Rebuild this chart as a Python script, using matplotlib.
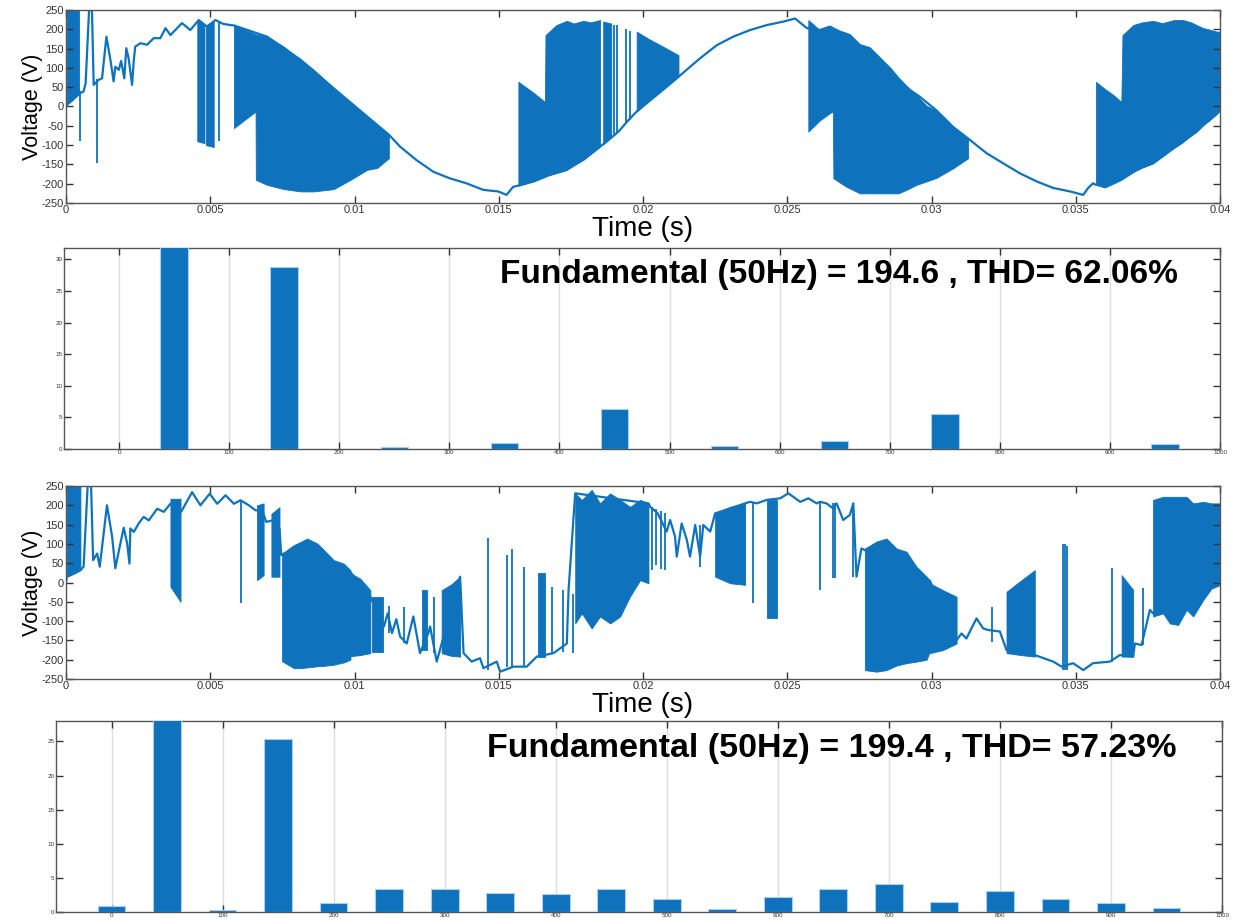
import numpy as np
import matplotlib
matplotlib.use("Agg")
import matplotlib.pyplot as plt
from matplotlib.ticker import FuncFormatter

plt.rcParams['font.family'] = ['Liberation Sans', 'DejaVu Sans']
plt.rcParams['axes.unicode_minus'] = False

BLUE = '#0E72BD'

# ---------------- Waveform 1 (top) : time in ms, voltage in V ----------------
w1_base_t = [0, 0.03, 0.5, 0.61, 0.68, 0.8, 0.9, 0.96, 1.13, 1.25, 1.4, 1.54, 1.65, 1.71, 1.83, 1.91,
             2.02, 2.09, 2.17, 2.29, 2.35, 2.4, 2.58, 2.81, 3.04, 3.27, 3.45, 3.62, 4.02, 4.31, 4.6,
             4.89, 5.18, 5.45, 5.7, 5.82, 6.97, 8.13, 9.28, 10.44, 11.19, 11.58, 12.15, 12.73, 13.3,
             13.88, 14.46, 14.98, 15.27, 15.5, 15.68, 16.2, 16.78, 17.36, 17.93, 18.51, 18.74, 19.15,
             19.44, 19.78, 20.82, 21.23, 21.98, 22.56, 23.13, 23.71, 24.29, 24.87, 25.27, 25.68,
             26.13, 26.48, 26.82, 27.17, 27.52, 27.86, 28.21, 28.56, 28.9, 29.25, 29.6, 30.17, 30.75,
             31.27, 31.91, 32.48, 33.06, 33.64, 34.22, 34.8, 35.26, 35.43, 35.6, 35.7, 36.53, 37.1,
             37.68, 38.26, 38.61, 38.84, 39.19, 39.53, 40.0]
w1_base_v = [0, 5, 35, 39, 60, 250, 250, 56, 69, 73, 181, 121, 65, 103, 95, 118,
             73, 151, 125, 56, 120, 155, 164, 160, 177, 177, 203, 185, 216, 198, 224,
             207, 224, 214, 211, 210, 181, 121, 47, -26, -73, -104, -139, -169, -186,
             -199, -216, -220, -229, -208, -205, -194, -177, -164, -138, -104, -91, -65,
             -40, -13, 51, 77, 125, 159, 181, 198, 211, 220, 228, 203,
             198, 207, 194, 185, 159, 151, 125, 99, 69, 43, 25, -10, -53,
             -83, -121, -147, -173, -194, -211, -220, -229, -211, -199, -203, -190, -164,
             -147, -113, -96, -83, -65, -40, -10]

# dense switching bands: (time ms, upper envelope, lower envelope)
w1_band_a = ([0.03, 0.2, 0.45], [250, 250, 250], [5, 15, 35])
w1_band_b = ([4.55, 4.8], [224, 212], [-90, -95])
w1_band_c = ([4.85, 5.12], [210, 222], [-100, -105])
w1_band_d = ([5.82, 6.57, 6.58, 6.97, 7.55, 8.13, 8.59, 9.28, 9.86, 10.44, 10.79, 11.19],
             [211, 187, 187, 181, 155, 121, 95, 47, 9, -26, -50, -73],
             [-56, -13, -190, -203, -214, -220, -220, -214, -190, -164, -159, -134])
w1_band_e = ([15.68, 16.2, 16.6, 16.62, 17.0, 17.36, 17.6, 17.93, 18.2, 18.51],
             [64, 36, 12, 185, 211, 222, 215, 222, 218, 224],
             [-205, -194, -182, -180, -172, -164, -150, -138, -122, -104])
w1_band_f = ([18.62, 18.9], [220, 215], [-98, -75])
w1_band_g = ([19.78, 20.2, 20.7, 21.23], [194, 175, 155, 133], [-13, 15, 48, 77])
w1_band_h = ([25.73, 26.13, 26.48, 26.58, 26.6, 27.05, 27.52, 27.86, 28.21, 28.56, 28.85, 29.13,
              29.48, 29.83, 30.17, 30.75, 31.27],
             [224, 198, 207, 200, 200, 190, 159, 151, 125, 99, 72, 50, 29, 2, -10, -53, -83],
             [-65, -36, -17, -13, -186, -208, -225, -225, -225, -225, -225, -216, -203, -194, -185,
              -160, -134])
w1_band_i = ([35.7, 36.0, 36.3, 36.58, 36.62, 36.99, 37.3, 37.68, 38.0, 38.4, 38.72, 39.0, 39.19,
              39.42, 39.6, 39.88, 40.0],
             [64, 46, 30, 12, 185, 211, 218, 222, 216, 224, 224, 218, 211, 203, 200, 194, 194],
             [-203, -210, -200, -190, -188, -170, -158, -147, -130, -108, -92, -75, -65, -48, -38,
              -20, -10])
w1_bands = [w1_band_a, w1_band_b, w1_band_c, w1_band_d, w1_band_e, w1_band_f, w1_band_g,
            w1_band_h, w1_band_i]
# isolated switching spikes: time ms, low, high
w1_spike_t = [0.5, 1.08, 5.3, 18.98, 19.1, 19.4, 19.55]
w1_spike_lo = [-90, -146, -90, -70, -65, -40, -35]
w1_spike_hi = [40, 70, 220, 211, 211, 200, 195]

# ---------------- Waveform 2 (third panel) ----------------
w2_base_t = [0, 0.03, 0.5, 0.61, 0.75, 0.87, 0.94, 1.08, 1.17, 1.42, 1.6, 1.71, 1.86, 2.0, 2.12,
             2.2, 2.23, 2.35, 2.52, 2.69, 2.87, 3.16, 3.39, 3.62, 3.99, 4.37, 4.66, 4.98, 5.24,
             5.53, 5.82, 6.05, 6.34, 6.57, 6.8, 6.94, 7.17, 7.4, 7.46, 7.55, 9.8, 10.55, 11.02,
             11.15, 11.3, 11.45, 11.58, 11.81, 12.04, 12.27, 12.56, 12.62, 12.85, 13.66, 13.78,
             14.06, 14.35, 14.47, 14.93, 15.05, 15.51, 15.97, 16.32, 16.9, 17.36, 17.42, 17.65,
             20.19, 20.25, 20.5, 20.82, 20.94, 21.11, 21.17, 21.34, 21.52, 21.63, 21.81, 21.98,
             22.09, 22.33, 22.5, 23.54, 23.71, 23.94, 24.29, 24.75, 25.04, 25.45, 25.73, 26.02,
             26.13, 26.36, 26.59, 26.71, 26.94, 27.17, 27.29, 27.4, 27.57, 27.69, 29.94, 30.87,
             31.04, 31.21, 31.56, 31.79, 31.96, 32.37, 32.6, 33.58, 34.22, 34.51, 34.91, 35.26,
             35.6, 36.18, 36.53, 36.99, 37.05, 37.28, 37.57, 37.68, 40.0]
w2_base_v = [0, 15, 32, 41, 250, 250, 58, 75, 41, 200, 118, 37, 92, 142, 101,
             49, 140, 131, 153, 170, 161, 191, 183, 204, 183, 234, 200, 230, 204,
             226, 204, 213, 200, 187, 187, 157, 161, 140, 71, 75, 32, -37, -114,
             -80, -131, -95, -140, -158, -88, -183, -131, -114, -205, 15, -183,
             -205, -196, -222, -205, -231, -218, -218, -192, -183, -158, -19, 231,
             205, 196, 180, 132, 162, 119, 67, 153, 110, 67, 149, 67,
             149, 132, 179, 205, 209, 205, 214, 218, 231, 209, 218, 205,
             209, 205, 192, 205, 162, 175, 205, 15, 88, 84, 5, -149,
             -132, -145, -93, -119, -123, -127, -175, -188, -205, -218, -209, -227,
             -209, -205, -188, -192, -158, -162, -71, -80, -6]

w2_band_a = ([0.03, 0.25, 0.5], [250, 250, 250], [15, 22, 32])
w2_band_b = ([3.62, 3.97], [217, 217], [-11, -50])
w2_band_c = ([6.62, 6.85], [200, 205], [6, 19])
w2_band_d = ([7.12, 7.4], [178, 195], [15, 15])
w2_band_e = ([7.49, 7.9, 8.13, 8.36, 8.71, 8.94, 9.28, 9.63, 9.86],
             [75, 97, 105, 114, 101, 84, 58, 49, 32],
             [-204, -222, -222, -220, -217, -216, -213, -207, -200])
w2_band_f = ([9.86, 10.2, 10.55], [24, 10, -20], [-191, -188, -183])
w2_band_g = ([10.6, 11.0], [-37, -37], [-179, -179])
w2_band_h = ([12.33, 12.5], [-19, -19], [-175, -175])
w2_band_i = ([13.02, 13.35, 13.66], [-20, -5, 15], [-183, -190, -192])
w2_band_j = ([16.37, 16.61], [24, 24], [-192, -192])
w2_band_k = ([17.65, 17.88, 18.22, 18.51, 18.86, 19.21, 19.55, 19.9, 20.19],
             [231, 214, 240, 205, 231, 214, 196, 214, 205],
             [-106, -80, -119, -88, -106, -88, -36, 6, -2])
w2_band_l = ([22.5, 23.02, 23.54], [179, 196, 205], [15, -2, -6])
w2_band_m = ([24.29, 24.64], [214, 214], [-93, -93])
w2_band_n = ([27.69, 28.09, 28.44, 28.79, 29.13, 29.48, 29.83, 29.94],
             [88, 106, 114, 88, 80, 41, 15, 5],
             [-227, -231, -227, -215, -209, -205, -200, -179])
w2_band_o = ([29.94, 30.4, 30.87], [-2, -20, -37], [-183, -175, -158])
w2_band_p = ([32.6, 33.1, 33.58], [-24, 5, 32], [-183, -188, -192])
w2_band_q = ([36.59, 36.99], [19, -19], [-192, -192])
w2_band_r = ([37.68, 38.03, 38.26, 38.55, 38.84, 39.07, 39.42, 39.71, 40.0],
             [214, 222, 222, 222, 222, 205, 209, 205, 205],
             [-88, -80, -106, -110, -71, -88, -45, -15, -6])
w2_bands = [w2_band_a, w2_band_b, w2_band_c, w2_band_d, w2_band_e, w2_band_f, w2_band_g,
            w2_band_h, w2_band_i, w2_band_j, w2_band_k, w2_band_l, w2_band_m, w2_band_n,
            w2_band_o, w2_band_p, w2_band_q, w2_band_r]
w2_spike_t = [6.07, 11.19, 11.7, 12.74, 14.64, 15.28, 15.45, 15.86, 16.84, 17.24, 17.59,
              20.3, 20.45, 20.62, 20.75, 21.98, 23.83, 26.14, 26.59, 26.65, 27.29,
              32.11, 34.55, 34.62, 34.7, 36.24, 37.34]
w2_spike_lo = [-54, -131, -158, -183, -227, -220, -218, -218, -185, -180, -183,
               32, 45, 35, 32, 41, -54, -20, 11, 11, 15,
               -153, -227, -227, -227, -205, -162]
w2_spike_hi = [213, -62, -63, -37, 114, 71, 88, 41, -11, -19, -30,
               196, 190, 185, 180, 149, 209, 205, 205, 205, 205,
               -63, 101, 101, 95, 37, -15]

# ---------------- Harmonic spectra ----------------
freq_hz = [0, 50, 100, 150, 200, 250, 300, 350, 400, 450, 500, 550, 600, 650, 700, 750,
           800, 850, 900, 950]
mag1 = [0, 100, 0, 28.8, 0, 0.37, 0, 1.0, 0, 6.4, 0, 0.53, 0, 1.2, 0, 5.6, 0, 0, 0, 0.85]
mag2 = [0.95, 100, 0.28, 25.4, 1.3, 3.35, 3.3, 2.77, 2.63, 3.44, 1.87, 0.48, 2.15, 3.3,
        4.1, 1.48, 3.1, 1.87, 1.3, 0.62]
text1 = 'Fundamental (50Hz) = 194.6 , THD= 62.06%'
text2 = 'Fundamental (50Hz) = 199.4 , THD= 57.23%'

W, H = 1246, 922
fig = plt.figure(figsize=(W / 100, H / 100), dpi=100)


def rect(l, t, r, b):
    return [l / W, 1 - b / H, (r - l) / W, (b - t) / H]


def style_axes(ax, labsize, pad=2):
    for s in ax.spines.values():
        s.set_color('#555555')
        s.set_linewidth(1.0)
    ax.tick_params(direction='in', top=True, right=True, length=5, width=1,
                   color='#333333', labelsize=labsize, labelcolor='#333333', pad=pad)


def wave(ax, bt, bv, bands, st, slo, shi):
    for (t, top, bot) in bands:
        ts = np.array(t) / 1000.0
        ax.fill_between(ts, bot, top, color=BLUE, lw=0.6, edgecolor=BLUE)
    ax.vlines(np.array(st) / 1000.0, slo, shi, color=BLUE, lw=1.3)
    ax.plot(np.array(bt) / 1000.0, bv, color=BLUE, lw=1.6)
    ax.set_xlim(0, 0.04)
    ax.set_ylim(-250, 250)
    ax.set_xticks(np.arange(0, 0.0401, 0.005))
    ax.xaxis.set_major_formatter(FuncFormatter(lambda x, p: '%g' % round(x, 4)))
    ax.set_yticks(np.arange(-250, 251, 50))
    style_axes(ax, 8, pad=1.5)
    ax.set_ylabel('Voltage (V)', fontsize=15.5, labelpad=-1)
    ax.set_xlabel('Time (s)', fontsize=20, labelpad=1)


def spectrum(ax, mags, ytop, yt, txt, tx, ty, fs):
    ax.bar(freq_hz, mags, width=25, color=BLUE, edgecolor='#A9CDEA', lw=0.8, zorder=3)
    ax.set_xlim(-50, 1000)
    ax.set_ylim(0, ytop)
    ax.set_xticks(np.arange(0, 1001, 100))
    ax.set_yticks(yt)
    ax.grid(axis='x', color='#DDDDDD', lw=1.0, zorder=0)
    style_axes(ax, 4.5, pad=1)
    ax.text(tx, ty, txt, transform=fig.transFigure, fontsize=fs, fontweight='bold',
            ha='left', va='baseline', color='black')


ax1 = fig.add_axes(rect(66, 10, 1220, 203))
wave(ax1, w1_base_t, w1_base_v, w1_bands, w1_spike_t, w1_spike_lo, w1_spike_hi)

ax2 = fig.add_axes(rect(64, 248, 1220, 449))
spectrum(ax2, mag1, 31.8, np.arange(0, 31, 5), text1, 500 / W, 1 - 283 / H, 24)

ax3 = fig.add_axes(rect(66, 486, 1220, 679))
wave(ax3, w2_base_t, w2_base_v, w2_bands, w2_spike_t, w2_spike_lo, w2_spike_hi)

ax4 = fig.add_axes(rect(56, 721, 1222, 912))
spectrum(ax4, mag2, 28.0, np.arange(0, 26, 5), text2, 487 / W, 1 - 757 / H, 24.5)

fig.savefig('out.png', dpi=100)
